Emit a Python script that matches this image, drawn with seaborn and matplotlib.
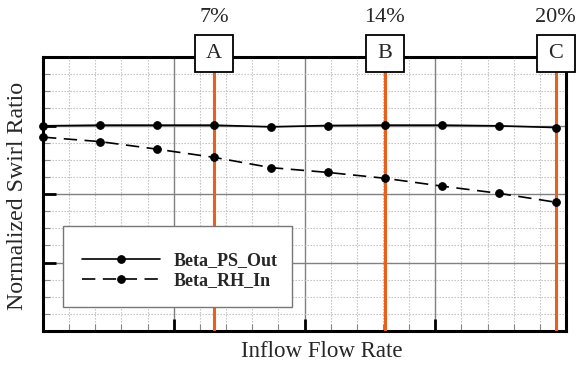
import numpy as np
import pandas as pd
import matplotlib
matplotlib.use("Agg")
import matplotlib.pyplot as plt
import matplotlib.transforms as mtransforms
from matplotlib.patches import Rectangle
import seaborn as sns

# ---- data ----
flow_rate = [0.0, 2.22, 4.44, 6.67, 8.89, 11.11, 13.33, 15.56, 17.78, 20.0]
beta_ps_out = [0.999, 1.001, 1.001, 1.001, 0.996, 1.000, 1.001, 1.001, 0.999, 0.994]
beta_rh_in = [0.966, 0.953, 0.931, 0.907, 0.877, 0.863, 0.846, 0.823, 0.802, 0.776]
series_names = ["Beta_PS_Out", "Beta_RH_In"]
mark_x = [6.67, 13.33, 20.0]
mark_letters = ["A", "B", "C"]
mark_pct = ["7%", "14%", "20%"]

sns.set_theme(style="white")
plt.rcParams["font.family"] = ["Liberation Serif", "DejaVu Serif"]

fig = plt.figure(figsize=(5.8, 3.67), dpi=100)
ax = fig.add_axes([43/580, (367-331)/367, (566-43)/580, (331-57)/367])

df = pd.DataFrame({"x": flow_rate, "ps": beta_ps_out, "rh": beta_rh_in})
sns.lineplot(data=df, x="x", y="ps", ax=ax, color="black", lw=1.2,
             marker="o", markersize=5.5, markeredgecolor="black",
             label=series_names[0], zorder=5, clip_on=False)
sns.lineplot(data=df, x="x", y="rh", ax=ax, color="black", lw=1.2,
             marker="o", markersize=5.5, markeredgecolor="black",
             dashes=False, label=series_names[1], zorder=5, clip_on=False)
ax.lines[1].set_dashes([8, 4.5])

xmax = 20.4
ax.set_xlim(0, xmax)
ax.set_ylim(0.4, 1.2)
ax.set_xticks(np.linspace(0, xmax, 5))
ax.set_xticks(np.linspace(0, xmax, 21), minor=True)
ax.set_yticks(np.linspace(0.4, 1.2, 5))
ax.set_yticks(np.linspace(0.4, 1.2, 17), minor=True)
ax.set_xticklabels([])
ax.set_yticklabels([])
ax.grid(which="major", color="#808080", lw=1.0, ls="-")
ax.grid(which="minor", color="#bbbbbb", lw=0.8, ls=(0, (1.2, 1.5)))
ax.set_axisbelow(True)
ax.tick_params(which="major", direction="in", length=9, width=2, color="black",
               bottom=True, left=True, top=False, right=False)
ax.tick_params(which="minor", direction="in", length=5, width=0.8, color="#888888",
               bottom=True, left=True, top=False, right=False)
for s in ax.spines.values():
    s.set_linewidth(2.2)
    s.set_color("black")
    s.set_visible(True)

for xv in mark_x:
    ax.axvline(xv, color="#E8601C", lw=2.2, zorder=4)

ax.set_xlabel("Inflow Flow Rate", fontsize=16.5)
ax.set_ylabel("Normalized Swirl Ratio", fontsize=17.2)
ax.xaxis.set_label_coords((321.5-43)/523, -0.035)
ax.yaxis.set_label_coords(-0.029, 0.493)

trans = mtransforms.blended_transform_factory(ax.transData, ax.transAxes)
bw = 38/523*xmax
for xv, let, pct in zip(mark_x, mark_letters, mark_pct):
    r = Rectangle((xv - bw/2, (331-72)/274), bw, 37/274, transform=trans,
                  facecolor="white", edgecolor="black", lw=1.3, clip_on=False, zorder=10)
    ax.add_patch(r)
    ax.text(xv, (331-53.5)/274, let, transform=trans, ha="center", va="center",
            fontsize=16, zorder=11, clip_on=False)
    ax.text(xv, (331-18)/274, pct, transform=trans, ha="center", va="center",
            fontsize=16, clip_on=False)

# legend frame
ax.add_patch(Rectangle(((63-43)/523, (331-307)/274), (292-63)/523, (307-226)/274,
                       transform=ax.transAxes, facecolor="white", edgecolor="#777777",
                       lw=1.0, zorder=19))
leg = ax.legend(loc="center left", bbox_to_anchor=((82-43)/523, (331-270.5)/274),
                frameon=False, prop={"weight": "bold", "size": 13},
                handlelength=4.3, borderaxespad=0, labelspacing=0.18,
                borderpad=0, handletextpad=0.78)
leg.set_zorder(20)

fig.savefig("out.png", dpi=100)
